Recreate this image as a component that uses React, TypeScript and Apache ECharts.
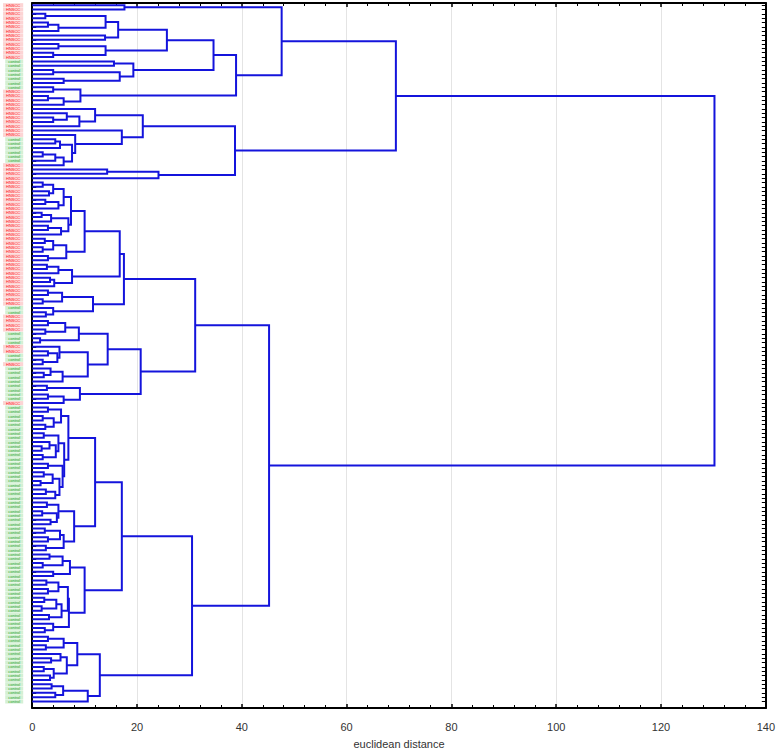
import React, { useEffect, useRef } from "react";
import * as echarts from "echarts";

// Leaf labels in display order (top to bottom), as runs of [label, count]
const leafRuns: [string, number][] = [
  ["HNSCC", 13], ["control", 7], ["HNSCC", 11], ["control", 6], ["HNSCC", 33],
  ["control", 2], ["HNSCC", 4], ["control", 3], ["HNSCC", 2], ["control", 2],
  ["HNSCC", 1], ["control", 8], ["HNSCC", 1], ["control", 69],
];

// Height (euclidean distance) at which leaf i and leaf i+1 become joined
const joinHeights: number[] = [
  // cluster A (leaves 0-40)
  17.6, 47.6, 2.5, 14, 3, 5, 16.4, 13.9, 25.7, 5,
  14, 4, 34.6, 15.6, 19.3, 4, 16.7, 6, 38.9, 4,
  9.2, 3, 6, 69.4, 12, 6.6, 4, 9, 21.1, 17.1,
  8.2, 4.4, 5.3, 7.6, 2, 4.4, 6, 38.7, 14.3, 24.1,
  // root
  130.2,
  // cluster B1 (leaves 41-92)
  2, 4, 3.2, 6, 2.5, 5, 7.4, 1.8, 3.6, 6.9, 3, 5.5,
  10,
  2.4, 4, 2, 6.5, 3,
  16.7,
  2.8, 5, 7.6, 3.4, 4.2,
  17.5,
  3, 5.7, 2, 11.6, 4, 2.6,
  31.1,
  3, 6.3, 2.5, 8.9, 1.5,
  14.4,
  5.2, 3, 4.8, 2, 10.6, 3.5, 2.2, 5.8,
  20.7,
  2.8, 9.1, 3, 6,
  // B1 | B2
  45.2,
  // cluster B2 (leaves 93-161)
  3, 5.5, 2, 4.1, 2.5, 6.9, 2.2, 5, 3.3, 1.8, 4.5,
  2, 6.1, 3, 5.8, 2.2, 3.9, 1.6, 5.2, 2.6, 4.4,
  12,
  2.8, 5, 1.9, 4.7, 3.5, 8, 2.4, 5.3, 3, 6, 2.6,
  17.1,
  3.3, 5.8, 2, 7.2, 4, 10, 2.7, 5, 3, 6.8, 2.3, 4.6, 1.8, 5.6, 3.2, 7, 4, 2.4,
  30.5,
  3, 6, 2.6, 8.6, 5.4, 3.6, 6.6, 2.2, 4.1, 3.4,
  12.9,
  3.7, 5.9, 4.4, 10.6,
];

const xMin = 0;
const xMax = 140;
const xInterval = 20;
const axisTitle = "euclidean distance";

const leafLabels: string[] = [];
leafRuns.forEach(([lab, cnt]) => {
  for (let i = 0; i < cnt; i++) leafLabels.push(lab);
});
const N = leafLabels.length;
const categories = [...leafLabels, ""];

function buildLinks(): number[][][] {
  const links: number[][][] = [];
  function build(lo: number, hi: number): { x: number; y: number } {
    if (lo === hi) return { x: 0, y: lo };
    let k = lo;
    for (let i = lo; i < hi; i++) if (joinHeights[i] > joinHeights[k]) k = i;
    const h = joinHeights[k];
    const a = build(lo, k);
    const b = build(k + 1, hi);
    links.push([[a.x, a.y], [h, a.y], [h, b.y], [b.x, b.y]]);
    return { x: h, y: (a.y + b.y) / 2 };
  }
  build(0, N - 1);
  return links;
}

export default function App() {
  const ref = useRef<HTMLDivElement>(null);
  useEffect(() => {
    if (!ref.current) return;
    const chart = echarts.init(ref.current, null, { renderer: "svg" });
    const links = buildLinks();
    const frameLine = { show: true, onZero: false, lineStyle: { color: "#000", width: 2 } };
    const catAxisBase = {
      type: "category" as const,
      data: categories,
      inverse: true,
      boundaryGap: true,
      axisLine: frameLine,
      axisTick: {
        show: true,
        inside: true,
        length: 4,
        alignWithLabel: true,
        interval: (i: number) => i < N,
        lineStyle: { color: "#000", width: 1 },
      },
      splitLine: { show: false },
    };
    const narrow = "Liberation Sans Narrow, Liberation Sans, Arial, sans-serif";
    chart.setOption({
      animation: false,
      textStyle: { fontFamily: "Liberation Sans, Arial, sans-serif" },
      grid: { left: 31, right: 10, top: 3, bottom: 43, containLabel: false },
      xAxis: [
        {
          type: "value",
          min: xMin,
          max: xMax,
          interval: xInterval,
          position: "bottom",
          axisLine: frameLine,
          axisTick: { show: true, inside: true, length: 4, lineStyle: { color: "#000", width: 1.5 } },
          minorTick: { show: true, splitNumber: 5, length: 3, lineStyle: { color: "#000", width: 1 } },
          axisLabel: { fontSize: 11, color: "#333", margin: 13, fontFamily: narrow },
          splitLine: { show: true, lineStyle: { color: "#e4e4e4", width: 1 } },
          name: axisTitle,
          nameLocation: "middle",
          nameGap: 30,
          nameTextStyle: { fontSize: 11, color: "#333", fontFamily: narrow },
        },
        {
          type: "value",
          min: xMin,
          max: xMax,
          interval: xInterval,
          position: "top",
          axisLine: frameLine,
          axisTick: { show: true, inside: true, length: 4, lineStyle: { color: "#000", width: 1.5 } },
          minorTick: { show: true, splitNumber: 5, length: 3, lineStyle: { color: "#000", width: 1 } },
          axisLabel: { show: false },
          splitLine: { show: false },
        },
      ],
      yAxis: [
        {
          ...catAxisBase,
          position: "left",
          axisLabel: {
            show: true,
            interval: 0,
            margin: 9,
            formatter: (v: string) => (v === "HNSCC" ? `{h|${v}}` : v ? `{c|${v}}` : ""),
            rich: {
              h: {
                color: "#ff1a1a",
                backgroundColor: "#fcd4d4",
                fontSize: 4,
                lineHeight: 4,
                padding: [0, 3],
                fontFamily: "Liberation Sans",
              },
              c: {
                color: "#2aa02a",
                backgroundColor: "#d4f0d4",
                fontSize: 4,
                lineHeight: 4,
                padding: [0, 3],
                fontFamily: "Liberation Sans",
              },
            },
          },
        },
        {
          ...catAxisBase,
          position: "right",
          axisLabel: { show: false },
        },
        {
          type: "value",
          min: -0.5,
          max: N + 0.5,
          inverse: true,
          show: false,
        },
      ],
      series: [
        {
          type: "lines",
          coordinateSystem: "cartesian2d",
          xAxisIndex: 0,
          yAxisIndex: 2,
          polyline: true,
          silent: true,
          z: 3,
          lineStyle: { color: "#1414dc", width: 2, opacity: 1 },
          data: links.map((c) => ({ coords: c })),
        },
      ],
    });
    return () => chart.dispose();
  }, []);
  return (
    <div
      ref={ref}
      style={{ position: "absolute", left: 0, top: 0, width: 778, height: 754 }}
    />
  );
}
